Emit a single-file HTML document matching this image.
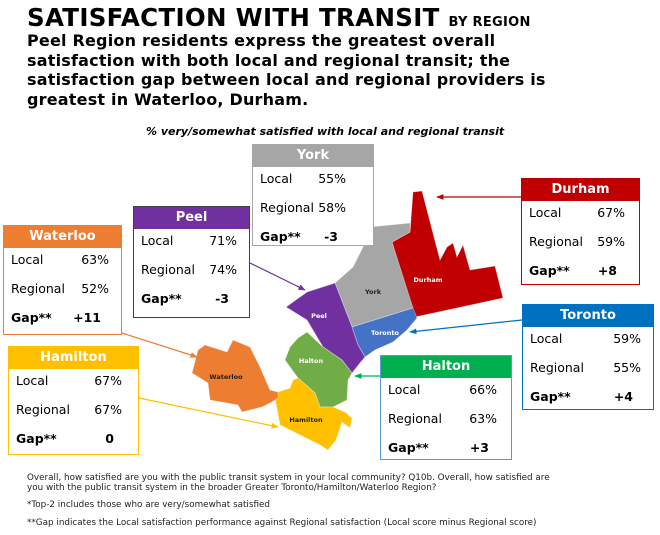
<!DOCTYPE html>
<html><head><meta charset="utf-8">
<style>
*{margin:0;padding:0;box-sizing:border-box}
body{width:660px;height:535px;background:#fff;position:relative;overflow:hidden;font-family:"DejaVu Sans","Liberation Sans",sans-serif;color:#000}
.abs{position:absolute}
#title{left:27px;top:3px;font-size:24.5px;font-weight:bold;white-space:nowrap;letter-spacing:0.3px}
#title span{font-size:13px}
#subtitle{left:27px;top:31px;font-size:16px;font-weight:bold;line-height:19.5px;white-space:nowrap;letter-spacing:0.2px}
#note{left:146px;top:125px;font-size:11px;font-weight:bold;font-style:italic;white-space:nowrap}
.box{position:absolute;background:#fff;border:1.5px solid}
.hdr{height:22px;color:#fff;font-weight:bold;font-size:13px;text-align:center;line-height:22px}
.row{position:absolute;left:7px;font-size:12.5px;white-space:nowrap}
.val{position:absolute;font-size:12.5px;white-space:nowrap;text-align:right}
.foot{left:27px;font-size:8.8px;white-space:nowrap;line-height:9.5px;color:#222}
</style></head>
<body>
<div id="title" class="abs">SATISFACTION WITH TRANSIT <span>BY REGION</span></div>
<div id="subtitle" class="abs">Peel Region residents express the greatest overall<br>satisfaction with both local and regional transit; the<br>satisfaction gap between local and regional providers is<br>greatest in Waterloo, Durham.</div>
<div id="note" class="abs">% very/somewhat satisfied with local and regional transit</div>

<svg class="abs" style="left:0;top:0" width="660" height="535">
<defs>
<marker id="ah" viewBox="0 0 10 10" refX="9" refY="5" markerWidth="6" markerHeight="6" orient="auto-start-reverse"><path d="M0,1 L10,5 L0,9 z" fill="context-stroke"/></marker>
</defs>
<g stroke="#fff" stroke-width="0.8" stroke-opacity="0.4">
<polygon fill="#c00000" points="413,192 422,191 440,260 447,247 453,243 457,257 463,245 470,270 495,266 503,298 415,317 410,307 392,242 410,232"/>
<polygon fill="#a6a6a6" points="370,227 410,223 410,232 392,242 413,308 352,327 335,283 353,267 363,247 368,240"/>
<polygon fill="#4472c4" points="352,327 413,308 417,318 407,330 393,342 375,350 365,357 358,345"/>
<polygon fill="#7030a0" points="335,283 352,327 358,345 365,357 360,363 352,373 342,360 323,347 307,320 286,307 307,292"/>
<polygon fill="#70ad47" points="307,332 323,347 342,360 352,373 348,380 347,400 333,407 320,407 315,393 298,378 285,360 290,347 298,338"/>
<polygon fill="#ffc000" points="298,378 315,393 320,407 333,407 345,412 352,418 350,428 342,422 336,440 328,450 320,445 300,435 280,425 275,398 278,392 290,388 293,380"/>
<polygon fill="#ed7d31" points="198,350 205,345 227,352 233,340 250,347 260,367 270,390 278,392 278,398 272,402 262,407 242,412 238,405 210,400 208,383 192,373"/>
</g>
<g font-size="6.5" font-weight="bold" text-anchor="middle">
<text x="428" y="282" fill="#fff">Durham</text>
<text x="373" y="294" fill="#222">York</text>
<text x="319" y="318" fill="#fff">Peel</text>
<text x="385" y="335" fill="#fff">Toronto</text>
<text x="311" y="363" fill="#fff">Halton</text>
<text x="226" y="379" fill="#222">Waterloo</text>
<text x="306" y="422" fill="#222">Hamilton</text>
</g>
<g stroke-width="1.2" marker-end="url(#ah)">
<line x1="521" y1="197" x2="437" y2="197" stroke="#c00000"/>
<line x1="250" y1="263" x2="305" y2="290" stroke="#7030a0"/>
<line x1="122" y1="333" x2="197" y2="357" stroke="#ed7d31"/>
<line x1="139" y1="398" x2="278" y2="427" stroke="#ffc000"/>
<line x1="522" y1="320" x2="410" y2="332" stroke="#0070c0"/>
<line x1="380" y1="376" x2="355" y2="376" stroke="#00b050"/>
</g>
</svg>

<div class="abs foot" style="top:474px">Overall, how satisfied are you with the public transit system in your local community? Q10b. Overall, how satisfied are<br>you with the public transit system in the broader Greater Toronto/Hamilton/Waterloo Region?</div>
<div class="abs foot" style="top:501px">*Top-2 includes those who are very/somewhat satisfied</div>
<div class="abs foot" style="top:519px">**Gap indicates the Local satisfaction performance against Regional satisfaction (Local score minus Regional score)</div>

<script>
const regions = ["York","Peel","Waterloo","Hamilton","Durham","Toronto","Halton"];
const localValues = [55,71,63,67,67,59,66];
const regionalValues = [58,74,52,67,59,55,63];
const gapLabels = ["-3","-3","+11","0","+8","+4","+3"];
// layout (not data)
const layout = {
  York:{x:252,y:144,w:122,h:102,c:"#a6a6a6",vx:95},
  Peel:{x:133,y:206,w:117,h:112,c:"#7030a0",vx:105},
  Waterloo:{x:3,y:225,w:119,h:110,c:"#ed7d31",vx:107},
  Hamilton:{x:8,y:346,w:131,h:109,c:"#ffc000",vx:115},
  Durham:{x:521,y:178,w:119,h:107,c:"#c00000",vx:105},
  Toronto:{x:522,y:304,w:132,h:106,c:"#0070c0",vx:120},
  Halton:{x:380,y:355,w:132,h:105,c:"#00b050",vx:118}
};
regions.forEach((r,i)=>{
  const L = layout[r];
  const key = r.toLowerCase();
  const box = document.createElement('div');
  box.className='box';
  
  
  box.style.left=L.x+'px';box.style.top=L.y+'px';box.style.width=L.w+'px';box.style.height=L.h+'px';
  box.style.borderColor = (r==="Halton")?"#5b9bd5":(r==="Peel"?"#404040":L.c);
  const h=document.createElement('div');
  h.className='hdr';
  
  
  h.style.background=L.c;h.textContent=r;
  box.appendChild(h);
  const rows=[["Local",localValues[i]+"%",false],["Regional",regionalValues[i]+"%",false],["Gap**",gapLabels[i],true]];
  rows.forEach((rw,j)=>{
    const t=document.createElement('div');
    t.className='row';
    
    
    t.style.top=(26+j*29)+'px';
    if(rw[2])t.style.fontWeight='bold';
    t.textContent=rw[0];
    box.appendChild(t);
    const v=document.createElement('div');
    v.className='val';
    
    
    v.style.top=(26+j*29)+'px';
    v.style.right=(L.w-L.vx)+'px';
    if(rw[2]){v.style.fontWeight='bold';v.style.right=(L.w-L.vx+8)+'px';}
    v.textContent=rw[1];
    box.appendChild(v);
  });
  document.body.appendChild(box);
});
</script>
</body></html>
